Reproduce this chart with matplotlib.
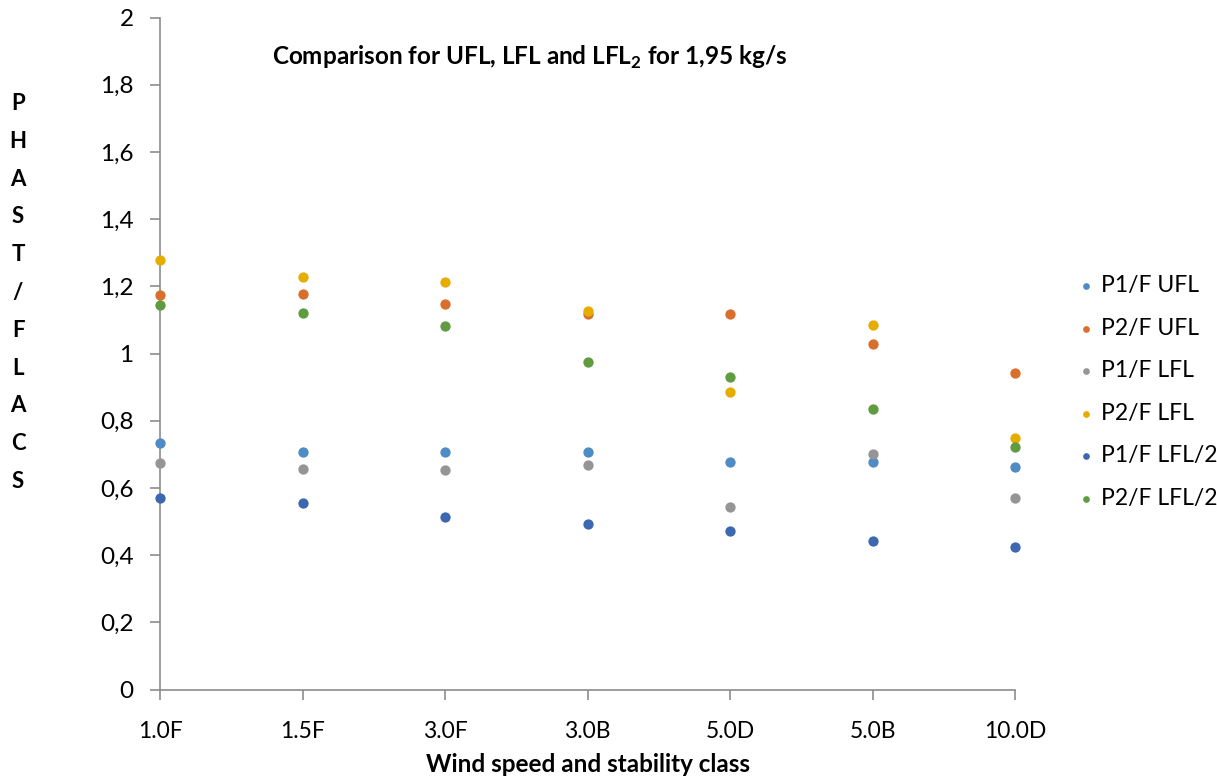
import matplotlib
matplotlib.use("Agg")
import matplotlib.pyplot as plt

# categories on the x axis
categories = ["1.0F", "1.5F", "3.0F", "3.0B", "5.0D", "5.0B", "10.0D"]

# series values
p1_ufl = [0.734, 0.706, 0.706, 0.706, 0.676, 0.676, 0.661]
p2_ufl = [1.175, 1.176, 1.147, 1.118, 1.118, 1.029, 0.941]
p1_lfl = [0.674, 0.655, 0.652, 0.668, 0.542, 0.700, 0.571]
p2_lfl = [1.277, 1.229, 1.212, 1.126, 0.885, 1.085, 0.749]
p1_lfl2 = [0.570, 0.554, 0.513, 0.493, 0.471, 0.442, 0.425]
p2_lfl2 = [1.145, 1.121, 1.083, 0.974, 0.929, 0.835, 0.721]

series_names = ["P1/F UFL", "P2/F UFL", "P1/F LFL", "P2/F LFL", "P1/F LFL/2", "P2/F LFL/2"]
series_vals = [p1_ufl, p2_ufl, p1_lfl, p2_lfl, p1_lfl2, p2_lfl2]
colors = ["#4F8BC4", "#D86F2D", "#959595", "#E6AC00", "#3E67B2", "#5F9C3F"]

yticks = [0, 0.2, 0.4, 0.6, 0.8, 1, 1.2, 1.4, 1.6, 1.8, 2]
ytick_labels = ["0", "0,2", "0,4", "0,6", "0,8", "1", "1,2", "1,4", "1,6", "1,8", "2"]

plt.rcParams["font.family"] = ["Lato", "DejaVu Sans"]
plt.rcParams["mathtext.fontset"] = "custom"
plt.rcParams["mathtext.bf"] = "Lato:bold"
plt.rcParams["mathtext.rm"] = "Lato"

fig = plt.figure(figsize=(12.17, 7.78), dpi=100)
ax = fig.add_axes([160 / 1217, 88.5 / 778, 855.5 / 1217, 672 / 778])

x = list(range(len(categories)))
for name, vals, c in zip(series_names, series_vals, colors):
    ax.scatter(x, vals, s=55, color=c, label=name, zorder=3, clip_on=False, linewidths=0)

ax.set_xlim(0, len(categories) - 1)
ax.set_ylim(0, 2)
ax.set_xticks(x)
ax.set_xticklabels(categories, fontsize=16.5)
ax.set_yticks(yticks)
ax.set_yticklabels(ytick_labels, fontsize=17.5)

axis_col = "#8C8C8C"
for side in ["top", "right"]:
    ax.spines[side].set_visible(False)
for side in ["left", "bottom"]:
    ax.spines[side].set_color(axis_col)
    ax.spines[side].set_linewidth(1.2)
ax.tick_params(axis="both", colors=axis_col, length=7, width=1.2, labelcolor="black")
ax.tick_params(axis="x", pad=16)
ax.tick_params(axis="y", pad=12)

fig.text(588 / 1217, 1 - 764 / 778, "Wind speed and stability class",
         fontsize=17.5, fontweight="bold", ha="center", va="center")

fig.text(530 / 1217, 1 - 57 / 778,
         r"Comparison for UFL, LFL and LFL$_{\mathbf{2}}$ for 1,95 kg/s",
         fontsize=17.5, fontweight="bold", ha="center", va="center")

fig.text(18 / 1217, 1 - 292.5 / 778, "\n".join("PHAST/FLACS"),
         fontsize=16, fontweight="bold", ha="center", va="center",
         linespacing=1.99)

ax.legend(loc="center left", bbox_to_anchor=(1068 / 1217, 1 - 392 / 778),
          bbox_transform=fig.transFigure, frameon=False, fontsize=16.5,
          labelspacing=0.94, handletextpad=0.35, markerscale=0.65,
          borderpad=0, handlelength=0.6)

fig.savefig("out.png", dpi=100)
